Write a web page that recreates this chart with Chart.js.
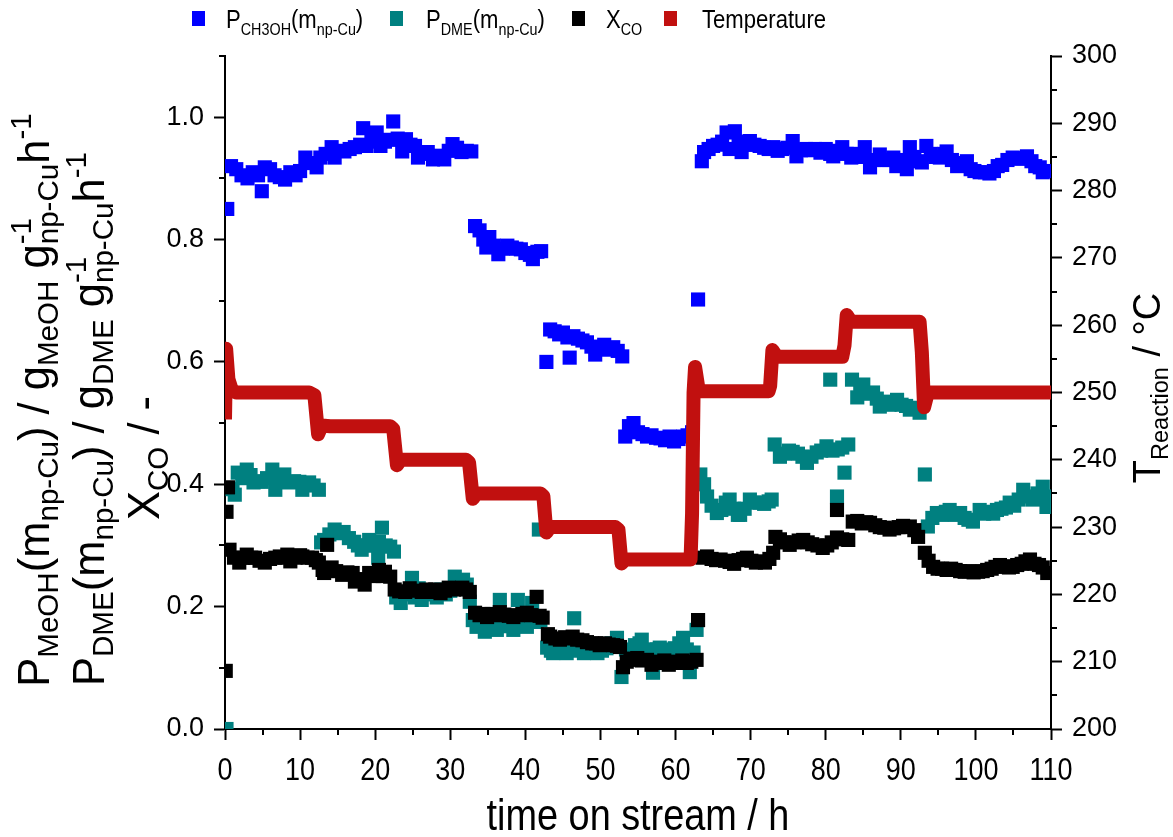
<!DOCTYPE html>
<html><head><meta charset="utf-8">
<script src="https://cdn.jsdelivr.net/npm/chart.js@4.4.1/dist/chart.umd.min.js"></script>
<style>html,body{margin:0;padding:0;background:#fff;}#wrap{width:1173px;height:837px;}</style>
</head><body><div id="wrap"><canvas id="c" width="1173" height="837"></canvas></div>
<script>
// ---- data (time on stream in h, value) ----
const meohPoints = [
[0.3,0.85],[0.8,0.92],[1.5,0.915],[2.2,0.905],[3.0,0.90],[3.7,0.91],[4.4,0.905],[4.9,0.879],[5.3,0.918],[6.0,0.915],[6.6,0.905],[7.3,0.902],[8.0,0.898],[8.7,0.91],[9.4,0.905],[10.0,0.912],[10.7,0.934],[11.4,0.925],[12.2,0.918],[12.7,0.934],[13.4,0.94],[14.2,0.951],[14.6,0.934],[15.3,0.945],[15.9,0.944],[16.6,0.948],[17.3,0.951],[18.0,0.955],[18.4,0.982],[18.8,0.953],[19.5,0.96],[20.2,0.975],[20.7,0.953],[21.3,0.96],[21.9,0.963],[22.4,0.993],[23.0,0.965],[23.6,0.944],[24.1,0.964],[24.7,0.955],[25.3,0.953],[25.7,0.934],[26.4,0.94],[27.0,0.943],[27.7,0.931],[28.4,0.937],[29.2,0.931],[29.8,0.945],[30.3,0.956],[30.9,0.95],[31.5,0.943],[32.2,0.945],[32.8,0.944],
[33.3,0.822],[33.9,0.815],[34.4,0.80],[34.8,0.787],[35.2,0.804],[35.8,0.79],[36.4,0.776],[37.0,0.785],[37.6,0.79],[38.2,0.787],[38.8,0.785],[39.4,0.784],[40.0,0.778],[40.6,0.775],[41.0,0.768],[41.6,0.78],[42.1,0.781],
[42.8,0.60],[43.3,0.653],[43.9,0.65],[44.5,0.645],[45.0,0.648],[45.6,0.64],[45.9,0.607],[46.4,0.642],[47.0,0.638],[47.6,0.635],[48.2,0.632],[48.8,0.625],[49.3,0.612],[49.9,0.622],[50.5,0.628],[51.1,0.62],[51.7,0.624],[52.3,0.618],[52.9,0.609],
[53.3,0.478],[53.8,0.495],[54.4,0.50],[55.0,0.485],[55.6,0.482],[56.2,0.478],[56.8,0.48],[57.4,0.476],[58.0,0.475],[58.6,0.472],[59.2,0.478],[59.8,0.47],[60.4,0.474],[61.0,0.478],[61.6,0.48],[62.2,0.485],[63.0,0.702],
[63.5,0.928],[63.8,0.943],[64.4,0.948],[65.0,0.953],[65.6,0.955],[66.2,0.96],[66.8,0.975],[67.2,0.948],[67.9,0.977],[68.4,0.96],[68.8,0.943],[69.4,0.955],[69.9,0.961],[70.5,0.955],[71.2,0.953],[71.8,0.95],[72.4,0.948],[73.0,0.951],[73.6,0.945],[74.2,0.948],[74.9,0.95],[75.6,0.961],[76.1,0.936],[76.7,0.946],[77.4,0.948],[78.0,0.946],[78.6,0.948],[79.3,0.942],[80.0,0.948],[80.6,0.94],[81.0,0.936],[81.6,0.945],[82.2,0.951],[82.8,0.94],[83.4,0.934],[84.0,0.94],[84.7,0.935],[85.2,0.951],[85.9,0.918],[86.5,0.93],[87.2,0.939],[87.8,0.93],[88.4,0.93],[89.0,0.934],[89.4,0.92],[90.1,0.93],[90.8,0.915],[91.2,0.951],[91.8,0.935],[92.4,0.928],[92.8,0.926],[93.4,0.953],[94.0,0.94],[94.6,0.935],[95.2,0.934],[95.8,0.94],[96.1,0.944],[96.8,0.93],[97.5,0.92],[98.2,0.925],[98.8,0.928],[99.3,0.915],[99.8,0.912],[100.5,0.91],[101.2,0.91],[101.8,0.908],[102.4,0.912],[102.9,0.92],[103.5,0.922],[104.2,0.93],[104.9,0.934],[105.6,0.932],[106.2,0.933],[106.8,0.936],[107.4,0.928],[107.9,0.92],[108.5,0.918],[108.9,0.91],[109.5,0.912]
];
const dmePoints = [
[0.2,0.0],[1.0,0.392],[1.3,0.383],[1.7,0.419],[2.3,0.41],[2.9,0.424],[3.4,0.415],[3.8,0.403],[4.4,0.405],[4.9,0.404],[5.6,0.41],[6.3,0.424],[6.7,0.391],[7.3,0.41],[7.9,0.416],[8.5,0.403],[9.2,0.405],[9.9,0.404],[10.3,0.391],[10.8,0.40],[11.2,0.403],[11.8,0.398],[12.5,0.391],
[12.8,0.305],[13.2,0.309],[13.9,0.318],[14.6,0.326],[15.2,0.32],[15.8,0.322],[16.5,0.312],[17.2,0.306],[17.7,0.30],[18.2,0.293],[18.7,0.30],[19.2,0.309],[19.8,0.30],[20.4,0.28],[20.5,0.306],[20.9,0.329],[21.4,0.30],[22.0,0.298],[22.5,0.29],
[22.8,0.215],[23.4,0.206],[24.0,0.22],[24.9,0.247],[25.3,0.215],[25.8,0.23],[26.2,0.211],[26.9,0.225],[27.5,0.22],[28.2,0.215],[28.8,0.228],[29.4,0.22],[30.0,0.226],[30.6,0.249],[31.2,0.24],[31.7,0.244],[32.2,0.236],[32.6,0.208],
[33.0,0.178],[33.5,0.167],[34.1,0.17],[34.6,0.159],[35.2,0.17],[35.8,0.18],[36.2,0.162],[36.6,0.211],[37.2,0.17],[37.8,0.168],[38.4,0.162],[39.0,0.211],[39.6,0.175],[40.2,0.167],[40.9,0.206],[41.5,0.175],[41.8,0.326],[42.0,0.178],
[42.9,0.133],[43.4,0.128],[43.7,0.124],[44.3,0.13],[44.9,0.128],[45.5,0.124],[46.1,0.13],[46.5,0.181],[47.2,0.128],[47.8,0.124],[48.4,0.126],[49.0,0.13],[49.6,0.124],[50.2,0.128],[50.8,0.132],[51.5,0.14],[52.2,0.149],[52.8,0.085],
[53.4,0.13],[54.0,0.125],[54.6,0.137],[55.2,0.14],[55.5,0.146],[56.2,0.13],[57.0,0.092],[57.5,0.13],[57.9,0.133],[58.6,0.13],[59.3,0.129],[59.9,0.132],[60.5,0.14],[61.0,0.149],[61.5,0.13],[61.9,0.093],[62.4,0.125],[62.8,0.162],
[63.3,0.416],[63.8,0.40],[64.2,0.38],[64.8,0.365],[65.5,0.353],[66.1,0.358],[66.7,0.37],[67.2,0.375],[67.8,0.36],[68.3,0.35],[68.6,0.35],[69.2,0.36],[69.9,0.375],[70.5,0.37],[71.2,0.37],[71.8,0.368],[72.4,0.372],[72.8,0.375],
[73.2,0.465],[73.9,0.445],[74.5,0.45],[75.1,0.455],[75.6,0.453],[76.3,0.45],[76.9,0.445],[77.5,0.435],[78.1,0.445],[78.8,0.452],[79.4,0.455],[80.1,0.462],[80.6,0.571],[80.9,0.455],[81.5,0.38],[81.6,0.457],[82.2,0.46],[82.5,0.419],[83.0,0.465],
[83.5,0.571],[84.2,0.542],[84.6,0.55],[85.0,0.563],[85.6,0.548],[86.3,0.55],[86.8,0.54],[87.2,0.527],[87.9,0.535],[88.5,0.53],[89.0,0.532],[89.5,0.538],[90.1,0.53],[90.7,0.528],[91.2,0.522],[91.8,0.525],[92.5,0.517],[93.2,0.416],
[93.6,0.331],[94.2,0.345],[94.8,0.353],[95.4,0.35],[96.0,0.355],[96.5,0.358],[97.2,0.35],[97.9,0.353],[98.5,0.345],[99.0,0.342],[99.6,0.339],[100.5,0.358],[101.1,0.352],[101.7,0.355],[102.3,0.352],[102.8,0.358],[103.4,0.36],[104.0,0.362],[104.5,0.37],[105.1,0.365],[105.7,0.375],[106.3,0.391],[106.9,0.38],[107.6,0.375],[108.2,0.385],[108.9,0.396],[109.4,0.363],[109.6,0.38]
];
const xcoPoints = [
[0.1,0.095],[0.2,0.355],[0.4,0.395],[0.6,0.293],[1.2,0.28],[1.9,0.272],[2.4,0.28],[2.9,0.285],[3.5,0.28],[4.0,0.28],[4.6,0.275],[5.3,0.272],[6.0,0.278],[6.7,0.28],[7.3,0.282],[7.9,0.28],[8.3,0.285],[8.7,0.274],[9.4,0.28],[10.0,0.284],[10.3,0.282],[11.0,0.28],[11.6,0.28],[12.1,0.276],[12.5,0.272],
[13.0,0.26],[13.2,0.255],[13.6,0.301],[14.2,0.264],[14.8,0.258],[15.6,0.252],[16.3,0.256],[17.0,0.255],[17.3,0.241],[18.0,0.245],[18.6,0.236],[19.2,0.255],[19.8,0.25],[20.5,0.26],[21.0,0.25],[21.3,0.257],[22.0,0.249],
[22.6,0.228],[23.2,0.225],[24.0,0.224],[24.6,0.23],[25.3,0.226],[26.2,0.224],[26.8,0.228],[27.4,0.224],[28.0,0.228],[28.7,0.222],[29.3,0.226],[29.8,0.231],[30.5,0.228],[31.0,0.23],[31.6,0.231],[32.1,0.228],[32.6,0.224],
[33.3,0.19],[33.9,0.186],[34.4,0.188],[34.9,0.183],[35.5,0.188],[36.1,0.186],[36.6,0.191],[37.2,0.187],[37.8,0.185],[38.4,0.183],[39.0,0.186],[39.6,0.188],[40.2,0.19],[40.8,0.186],[41.5,0.216],[41.9,0.185],[42.3,0.182],
[43.0,0.155],[43.3,0.151],[44.0,0.148],[44.6,0.146],[45.3,0.15],[45.8,0.148],[46.3,0.151],[46.9,0.146],[47.6,0.145],[48.2,0.142],[48.9,0.14],[49.4,0.14],[49.9,0.137],[50.6,0.14],[51.1,0.138],[51.7,0.137],[52.2,0.136],[52.6,0.134],
[53.0,0.101],[53.5,0.11],[54.0,0.115],[54.3,0.113],[54.9,0.116],[55.5,0.112],[56.2,0.113],[56.8,0.105],[57.3,0.11],[57.9,0.108],[58.5,0.112],[59.1,0.105],[59.7,0.108],[60.3,0.11],[60.9,0.112],[61.5,0.108],[62.1,0.11],[62.8,0.113],[63.0,0.178],
[63.6,0.28],[64.2,0.282],[64.8,0.278],[65.4,0.276],[66.0,0.277],[66.6,0.275],[67.2,0.273],[67.8,0.27],[68.4,0.276],[69.0,0.278],[69.5,0.28],[70.1,0.275],[70.7,0.272],[71.3,0.274],[71.9,0.272],[72.5,0.278],[73.0,0.288],
[73.3,0.314],[73.9,0.31],[74.5,0.305],[75.2,0.301],[75.8,0.305],[76.4,0.308],[77.0,0.309],[77.6,0.305],[78.2,0.302],[78.9,0.3],[79.6,0.296],[80.2,0.3],[80.8,0.305],[81.5,0.313],[81.5,0.358],[82.2,0.31],[83.0,0.309],
[83.6,0.339],[84.2,0.34],[84.8,0.336],[85.4,0.338],[85.9,0.337],[86.6,0.333],[87.2,0.33],[87.8,0.329],[88.5,0.326],[89.1,0.328],[89.7,0.33],[90.3,0.332],[90.8,0.33],[91.2,0.331],[91.8,0.325],[92.3,0.314],
[93.2,0.288],[93.7,0.275],[94.3,0.265],[94.9,0.262],[95.5,0.262],[96.1,0.26],[96.7,0.262],[97.3,0.26],[97.9,0.258],[98.5,0.257],[99.1,0.258],[99.7,0.256],[100.3,0.257],[100.9,0.258],[101.5,0.26],[102.1,0.262],[102.6,0.265],[103.2,0.268],[103.8,0.266],[104.4,0.264],[104.9,0.265],[105.5,0.268],[106.1,0.27],[106.6,0.274],[107.2,0.277],[107.8,0.27],[108.4,0.268],[108.9,0.264],[109.5,0.255]
];
const tempPoints = [
[0.0,246],[0.15,256.5],[0.45,252],[0.9,250.4],[1.5,250],[11.2,250],[11.9,249.6],[12.4,243.8],[12.9,245.1],[14,245],[22.0,245],[22.4,244.6],[22.9,239.2],[23.4,240],[32.1,240],[32.5,239.6],[33.0,234.2],[33.5,235],[42.0,235],[42.4,234.6],[42.8,229.2],[43.3,230],[52.0,230],[52.4,229.6],[52.8,224.6],[53.3,225.2],[62.0,225.2],[62.2,232],[62.4,250],[62.6,253.8],[63.1,250.2],[72.4,250.2],[72.6,251],[72.9,256.3],[73.5,255.3],[82.2,255.3],[82.5,257],[82.8,261.5],[83.4,260.5],[92.5,260.5],[92.8,256],[93.1,247.8],[93.6,250],[110,250]
];
const xTicks = [0,10,20,30,40,50,60,70,80,90,100,110];
const seriesColors = ['#0000ff','#008080','#000000','#c1100f'];

const FAM = '"Liberation Sans", Arial, Helvetica, sans-serif';
const toXY = a => a.map(p => ({x:p[0], y:p[1]}));

function layoutRich(ctx, parts, o){
  const items=[]; let x=0;
  for(const p of parts){
    if(p.n!==undefined){ ctx.font=o.size+'px '+FAM; items.push({t:p.n,x,dy:0,size:o.size}); x+=ctx.measureText(p.n).width; }
    else { const ss=o.size*o.sub; ctx.font=ss+'px '+FAM; let w=0;
      if(p.b){ items.push({t:p.b,x,dy:o.size*o.subDy,size:ss}); w=Math.max(w,ctx.measureText(p.b).width); }
      if(p.p){ items.push({t:p.p,x,dy:-o.size*o.supDy,size:ss}); w=Math.max(w,ctx.measureText(p.p).width); }
      x+=w; }
  }
  return {items,width:x};
}
function drawRich(ctx, parts, x, y, o, rot){
  ctx.save(); ctx.translate(x,y); if(rot) ctx.rotate(rot); ctx.scale(o.sq||1,1);
  const L=layoutRich(ctx,parts,o); const off=o.align==='center'?-L.width/2:0;
  ctx.fillStyle=o.color||'#000'; ctx.textBaseline='alphabetic'; ctx.textAlign='left';
  for(const it of L.items){ ctx.font=it.size+'px '+FAM; ctx.fillText(it.t,off+it.x,it.dy); }
  ctx.restore();
}

const titleL1=[{n:'P'},{b:'MeOH'},{n:'(m'},{b:'np-Cu'},{n:') / g'},{b:'MeOH'},{n:' g'},{p:'-1',b:'np-Cu'},{n:'h'},{p:'-1'}];
const titleL2=[{n:'P'},{b:'DME'},{n:'(m'},{b:'np-Cu'},{n:') / g'},{b:'DME'},{n:' g'},{p:'-1',b:'np-Cu'},{n:'h'},{p:'-1'}];
const titleL3=[{n:'X'},{b:'CO'},{n:' / -'}];
const titleR=[{n:'T'},{b:'Reaction'},{n:' / °C'}];
const legendItems=[
  {sq:192, tx:226, parts:[{n:'P'},{b:'CH3OH'},{n:'(m'},{b:'np-Cu'},{n:')'}]},
  {sq:390, tx:426, parts:[{n:'P'},{b:'DME'},{n:'(m'},{b:'np-Cu'},{n:')'}]},
  {sq:572, tx:606, parts:[{n:'X'},{b:'CO'}]},
  {sq:664, tx:702, parts:[{n:'Temperature'}]}
];

const decor = {
  id:'decor',
  afterDraw(chart){
    const ctx=chart.ctx, xs=chart.scales.x, ys=chart.scales.y, y2=chart.scales.y2;
    const ca=chart.chartArea;
    ctx.save();
    ctx.strokeStyle='#000'; ctx.lineWidth=2;
    ctx.beginPath();
    for(let v=5; v<110; v+=10){ const px=Math.round(xs.getPixelForValue(v)); ctx.moveTo(px,ca.bottom); ctx.lineTo(px,ca.bottom+6); }
    for(let v=0.1; v<1.15; v+=0.2){ const py=Math.round(ys.getPixelForValue(v)); ctx.moveTo(ca.left,py); ctx.lineTo(ca.left-6,py); }
    for(let v=205; v<300; v+=10){ const py=Math.round(y2.getPixelForValue(v)); ctx.moveTo(ca.right,py); ctx.lineTo(ca.right+6,py); }
    ctx.stroke();
    for(const v of xTicks){ drawRich(ctx,[{n:String(v)}],xs.getPixelForValue(v),780,{size:31,sq:0.87,align:'center'}); }
    drawRich(ctx,[{n:'time on stream / h'}],(ca.left+ca.right)/2,830,{size:44,sq:0.86,align:'center'});
    const to={size:43.5,sub:0.68,subDy:0.2,supDy:0.42,align:'center'};
    drawRich(ctx,titleL1,49,400,to,-Math.PI/2);
    drawRich(ctx,titleL2,104,419,to,-Math.PI/2);
    drawRich(ctx,titleL3,159,458,to,-Math.PI/2);
    drawRich(ctx,titleR,1160,388,{size:38,sub:0.62,subDy:0.2,supDy:0.42,align:'center'},-Math.PI/2);
    legendItems.forEach((it,i)=>{
      ctx.fillStyle=seriesColors[i]; ctx.fillRect(it.sq,11,13,15);
      drawRich(ctx,it.parts,it.tx,28,{size:26,sq:0.85,sub:0.65,subDy:0.25,supDy:0.4});
    });
    ctx.restore();
  }
};

const pointDs = (label, pts, color, order) => ({
  label, data: toXY(pts), yAxisID:'y', backgroundColor: color, borderColor: color,
  pointStyle:'rect', pointRadius:10, pointBorderWidth:0, pointHoverRadius:10, showLine:false, order
});

new Chart(document.getElementById('c'), {
  type:'scatter',
  data:{ datasets:[
    pointDs('P_CH3OH(m_np-Cu)', meohPoints, seriesColors[0], 4),
    pointDs('P_DME(m_np-Cu)', dmePoints, seriesColors[1], 3),
    pointDs('X_CO', xcoPoints, seriesColors[2], 2),
    { label:'Temperature', data: toXY(tempPoints), yAxisID:'y2', showLine:true, borderColor:seriesColors[3],
      backgroundColor:seriesColors[3], borderWidth:14, pointRadius:0, pointHoverRadius:0, tension:0,
      borderJoinStyle:'round', borderCapStyle:'butt', order:1 }
  ]},
  options:{
    responsive:false, animation:false, devicePixelRatio:1,
    layout:{ padding:{ top:56, left:0, right:0, bottom:0 } },
    plugins:{ legend:{display:false}, tooltip:{enabled:false} },
    scales:{
      x:{ type:'linear', position:'bottom', min:0, max:110,
        ticks:{ stepSize:10, display:false, includeBounds:false },
        grid:{ drawOnChartArea:false, drawTicks:true, tickLength:11, tickWidth:2, tickColor:'#000' },
        border:{ display:true, color:'#000', width:2 },
        afterFit(s){ s.height=108; } },
      y:{ type:'linear', position:'left', min:0, max:1.1,
        ticks:{ stepSize:0.2, includeBounds:false, color:'#000', padding:10, font:{family:FAM, size:27},
          callback:v=>Number(v).toFixed(1) },
        grid:{ drawOnChartArea:false, drawTicks:true, tickLength:11, tickWidth:2, tickColor:'#000' },
        border:{ display:true, color:'#000', width:2 },
        afterFit(s){ s.width=225; } },
      y2:{ type:'linear', position:'right', min:200, max:300,
        ticks:{ stepSize:10, color:'#000', padding:10, font:{family:FAM, size:27} },
        grid:{ drawOnChartArea:false, drawTicks:true, tickLength:11, tickWidth:2, tickColor:'#000' },
        border:{ display:true, color:'#000', width:2 },
        afterFit(s){ s.width=122; } }
    }
  },
  plugins:[decor]
});
</script></body></html>
